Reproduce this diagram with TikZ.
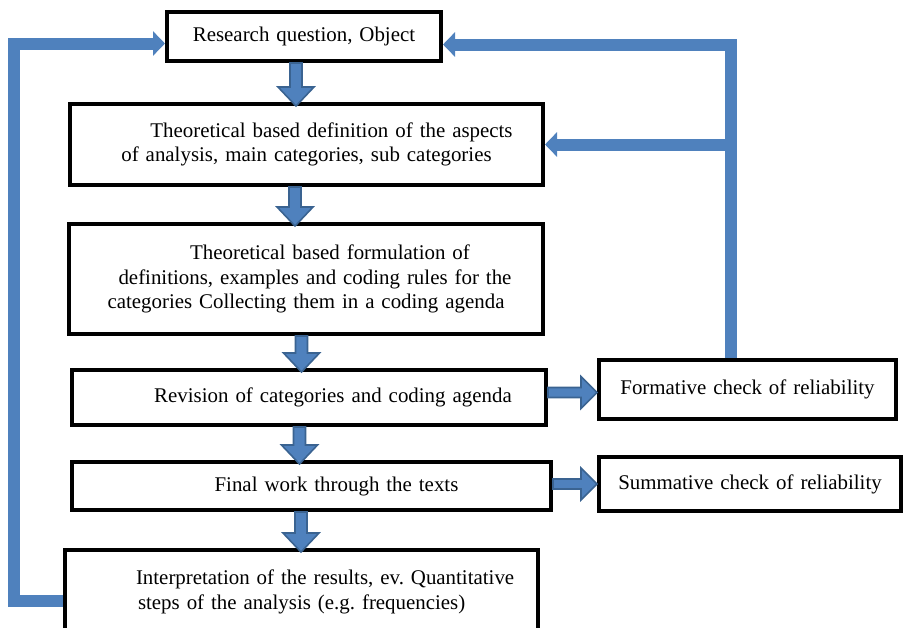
\documentclass[tikz,border=0pt]{standalone}
\usepackage{fontspec}
\setmainfont{Liberation Serif}
\usepackage{tikz}
\usetikzlibrary{arrows.meta,positioning,calc}

\definecolor{fbblue}{HTML}{4F81BD}
\definecolor{blockfill}{HTML}{4F81BD}
\definecolor{blockline}{HTML}{3A6391}

\begin{document}
\frenchspacing
\begin{tikzpicture}[x=1pt, y=-1pt,
    stage/.style={draw, line width=4pt, align=center, inner sep=2pt,
        font=\fontsize{20.9}{24.5}\selectfont},
    block/.style={fill=blockfill, draw=blockline, line width=1.6pt, line join=miter},
    fb/.style={draw=fbblue, line width=12pt},
    fbtip/.style={-{Triangle[width=24pt,length=12pt]}}]
    \clip (0,0) rectangle (905,627);

    % Stages
    \node[stage, text width=270pt, minimum height=49pt] (quest) at (304,36.5)
        {\raisebox{-2pt}{Research question, Object}};
    \node[stage, text width=469pt, minimum height=81pt] (aspects) at (306.5,144.5)
        {\hspace*{50pt}Theoretical based definition of the aspects\\of analysis, main categories, sub categories};
    \node[stage, text width=470pt, minimum height=110pt] (rules) at (306,279)
        {\hspace*{48pt}Theoretical based formulation of\\\hspace*{18pt}definitions, examples and coding rules for the\\categories Collecting them in a coding agenda};
    \node[stage, text width=470pt, minimum height=55pt] (revision) at (309,397.5)
        {\hspace*{48pt}Revision of categories and coding agenda};
    \node[stage, text width=475pt, minimum height=48pt] (final) at (311.5,486)
        {\hspace*{50pt}Final work through the texts};
    \node[stage, text width=469pt, minimum height=84pt, align=left] (interp) at (301.5,592)
        {\hspace*{69pt}Interpretation of the results, ev. Quantitative\\\hspace*{71pt}steps of the analysis (e.g. frequencies)};

    % Checks
    \node[stage, text width=293pt, minimum height=59pt] (formcheck) at (747.5,389.5)
        {Formative check of reliability};
    \node[stage, text width=298pt, minimum height=54pt] (sumcheck) at (750,484)
        {Summative check of reliability};

    % Block arrows down
    \foreach \a/\b/\dx in {quest/aspects/-8, aspects/rules/-11.5, rules/revision/-4.5,
                           revision/final/-9.5, final/interp/-10.5} {
        \path ([xshift=\dx pt]\a.south) coordinate (s)
              ($(s |- \b.north)+(0,-15)$) coordinate (h)
              ($(s |- \b.north)+(0,4)$) coordinate (t);
        \filldraw[block] ([xshift=-6pt]s) -- ([xshift=-6pt]h) -- ([xshift=-18pt]h) -- (t)
            -- ([xshift=18pt]h) -- ([xshift=6pt]h) -- ([xshift=6pt]s) -- cycle;
    }

    % Block arrows right
    \foreach \a/\b/\dy in {revision/formcheck/5, final/sumcheck/2} {
        \path ([yshift=\dy pt]\a.east) coordinate (s)
              ($(\b.west |- s)+(-16,0)$) coordinate (h)
              (\b.west |- s) coordinate (t);
        \filldraw[block] ([yshift=5pt]s) -- ([yshift=5pt]h) -- ([yshift=16pt]h) -- (t)
            -- ([yshift=-16pt]h) -- ([yshift=-5pt]h) -- ([yshift=-5pt]s) -- cycle;
    }

    % Feedback loops
    \coordinate (fbl) at (14,0);
    \coordinate (fbr) at ([xshift=-16.5pt]formcheck.north);
    \coordinate (qin) at ([yshift=-7pt]quest.west);
    \coordinate (qout) at ([yshift=-8pt]quest.east);
    \coordinate (iout) at ([yshift=-9pt]interp.west);
    \draw[fb, fbtip] (iout) -- (iout -| fbl) -- (fbl |- qin) -- (qin);
    \draw[fb, fbtip] (fbr) -- (fbr |- qout) -- (qout);
    \draw[fb, fbtip] (fbr |- aspects.east) -- (aspects.east);
\end{tikzpicture}
\end{document}
